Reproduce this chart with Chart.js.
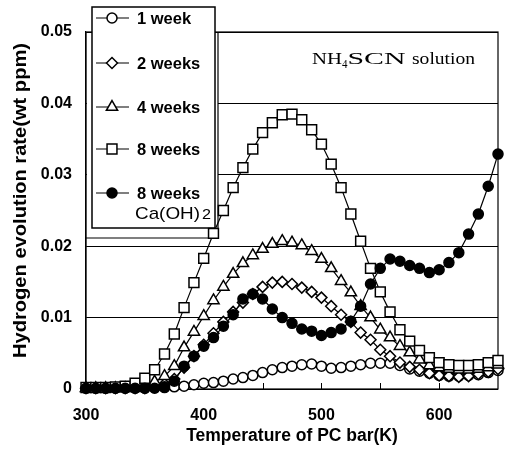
<!DOCTYPE html>
<html>
<head>
<meta charset="utf-8">
<script src="https://cdn.jsdelivr.net/npm/chart.js@4.4.1/dist/chart.umd.min.js"></script>
<style>
  html, body { margin: 0; padding: 0; background: #fff; }
  canvas { display: block; }
</style>
</head>
<body>
<canvas id="hydrogenChart" width="508" height="457"></canvas>
<script>
// Temperature of PC bar (K), same sampling for every series
const temperatures = [300, 308.3, 316.7, 325, 333.3, 341.7, 350, 358.3, 366.7, 375, 383.3, 391.7, 400, 408.3, 416.7,
    425, 433.3, 441.7, 450, 458.3, 466.7, 475, 483.3, 491.7, 500, 508.3, 516.7, 525, 533.3, 541.7, 550,
    558.3, 566.7, 575, 583.3, 591.7, 600, 608.3, 616.7, 625, 633.3, 641.7, 650];

// Hydrogen evolution rate (wt ppm)
const week1 = [0.0001, 0.0001, 0.0001, 0.0001, 0.0001, 0.0001, 0.0001, 0.0002, 0.0002, 0.0003, 0.0004, 0.0006, 0.0008,
    0.0009, 0.0011, 0.0014, 0.0016, 0.0019, 0.0023, 0.0027, 0.003, 0.0032, 0.0034, 0.0035, 0.0032, 0.0029, 0.003,
    0.0032, 0.0034, 0.0036, 0.0036, 0.0036, 0.0033, 0.0028, 0.0025, 0.0022, 0.0019, 0.0018, 0.0018, 0.0019, 0.002,
    0.0023, 0.0026];
const weeks2 = [0.0001, 0.0001, 0.0001, 0.0001, 0.0001, 0.0001, 0.0001, 0.0003, 0.0007, 0.0014, 0.003, 0.0046, 0.0062,
    0.0078, 0.0094, 0.0108, 0.0121, 0.0133, 0.0143, 0.0149, 0.015, 0.0147, 0.0142, 0.0136, 0.0128, 0.0116, 0.0104,
    0.0094, 0.0079, 0.0069, 0.0055, 0.0046, 0.0037, 0.0031, 0.0027, 0.0022, 0.0019, 0.0018, 0.0017, 0.0018, 0.0021,
    0.0024, 0.0028];
const weeks4 = [0.0001, 0.0001, 0.0001, 0.0001, 0.0001, 0.0001, 0.0003, 0.001, 0.0018, 0.0032, 0.0058, 0.008, 0.0102,
    0.0124, 0.0143, 0.0161, 0.0176, 0.0187, 0.0196, 0.0203, 0.0207, 0.0205, 0.0201, 0.0193, 0.0182, 0.0169, 0.0151,
    0.0135, 0.0116, 0.01, 0.0083, 0.0072, 0.006, 0.0051, 0.0041, 0.0033, 0.003, 0.0028, 0.0027, 0.0027, 0.0028,
    0.003, 0.0034];
const weeks8 = [0.0002, 0.0002, 0.0002, 0.0003, 0.0004, 0.0008, 0.0015, 0.0027, 0.0049, 0.0077, 0.0114, 0.0149, 0.0183,
    0.0218, 0.025, 0.0282, 0.031, 0.0336, 0.0359, 0.0373, 0.0384, 0.0385, 0.0377, 0.0363, 0.0343, 0.0315, 0.0282,
    0.0245, 0.0207, 0.0169, 0.0136, 0.0108, 0.0083, 0.0067, 0.0054, 0.0044, 0.0037, 0.0034, 0.0033, 0.0033, 0.0034,
    0.0037, 0.004];
const weeks8CaOH2 = [0.0001, 0.0001, 0.0001, 0.0001, 0.0001, 0.0001, 0.0001, 0.0001, 0.0003, 0.0011, 0.0032, 0.0046,
    0.006, 0.0072, 0.0088, 0.0104, 0.0126, 0.0133, 0.0126, 0.0112, 0.01, 0.0092, 0.0084, 0.0081, 0.0075, 0.0079,
    0.0084, 0.0095, 0.0116, 0.0147, 0.0169, 0.0182, 0.0179, 0.0173, 0.0169, 0.0163, 0.0167, 0.0177, 0.0191, 0.0217,
    0.0245, 0.0284, 0.0329];

const seriesNames = ["1 week", "2 weeks", "4 weeks", "8 weeks", "8 weeks"];
const seriesValues = [week1, weeks2, weeks4, weeks8, weeks8CaOH2];

const xTickValues = [300, 400, 500, 600];
const xMinorTicks = [350, 400, 450, 500, 550, 600];
const yTickValues = [0, 0.01, 0.02, 0.03, 0.04, 0.05];
const yTickLabels = ["0", "0.01", "0.02", "0.03", "0.04", "0.05"];
const yTitle = "Hydrogen evolution rate(wt ppm)";
const xTitle = "Temperature of PC bar(K)";

// marker look for each series (same order as seriesNames)
const markers = [
    { pointStyle: "circle", radius: 5, fill: "#fff", order: 4 },
    { pointStyle: "rectRot", radius: 5.5, fill: "#fff", order: 3 },
    { pointStyle: "triangle", radius: 6.5, fill: "#fff", order: 2 },
    { pointStyle: "rect", radius: 7, fill: "#fff", order: 1 },
    { pointStyle: "circle", radius: 5, fill: "#000", order: 0 }
];

const datasets = seriesValues.map((values, i) => ({
    label: seriesNames[i],
    data: temperatures.map((t, j) => ({ x: t, y: values[j] })),
    borderColor: "#000",
    borderWidth: 1.2,
    backgroundColor: markers[i].fill,
    pointStyle: markers[i].pointStyle,
    pointRadius: markers[i].radius,
    pointHoverRadius: markers[i].radius,
    pointBackgroundColor: markers[i].fill,
    pointBorderColor: "#000",
    pointBorderWidth: 1.5,
    order: markers[i].order,
    tension: 0,
    clip: false
}));

// stretch a piece of text to a given width (the scan has wide letters)
function drawFitted(ctx, text, x, y, width, font) {
    ctx.font = font;
    const w = ctx.measureText(text).width;
    ctx.save();
    ctx.translate(x, y);
    ctx.scale(width / w, 1);
    ctx.fillText(text, 0, 0);
    ctx.restore();
}

const framePlugin = {
    id: "frameAndLegend",
    beforeDatasetsDraw(chart) {
        const { ctx, chartArea: a, scales } = chart;
        ctx.save();
        ctx.strokeStyle = "#000";
        ctx.fillStyle = "#000";

        // plot frame
        ctx.lineWidth = 1.2;
        ctx.strokeRect(a.left, a.top, a.right - a.left, a.bottom - a.top);

        // inward minor ticks on the x axis
        ctx.lineWidth = 1;
        ctx.beginPath();
        xMinorTicks.forEach(v => {
            const px = Math.round(scales.x.getPixelForValue(v)) + 0.5;
            ctx.moveTo(px, a.bottom);
            ctx.lineTo(px, a.bottom - 6);
        });
        ctx.stroke();

        // panel behind the legend
        ctx.fillStyle = "#fff";
        ctx.fillRect(a.left + 1, a.top + 1, 218 - a.left - 1, 238 - a.top - 1);
        ctx.lineWidth = 1.2;
        ctx.beginPath();
        ctx.moveTo(218, a.top);
        ctx.lineTo(218, 238);
        ctx.lineTo(a.left, 238);
        ctx.stroke();

        // legend box
        ctx.fillRect(92, 7, 123, 221);
        ctx.lineWidth = 1.5;
        ctx.strokeRect(92, 7, 123, 221);

        const rows = [18, 63, 107, 149, 193];
        const drawPoint = Chart.helpers && Chart.helpers.drawPoint;
        rows.forEach((y, i) => {
            ctx.lineWidth = 1.2;
            ctx.strokeStyle = "#000";
            ctx.beginPath();
            ctx.moveTo(96, y);
            ctx.lineTo(129, y);
            ctx.stroke();
            if (drawPoint) {
                ctx.fillStyle = markers[i].fill;
                ctx.lineWidth = 1.5;
                drawPoint(ctx, { pointStyle: markers[i].pointStyle, radius: markers[i].radius, rotation: 0, borderWidth: 1.5 }, 112, y);
            }
            ctx.fillStyle = "#000";
            ctx.textBaseline = "middle";
            ctx.textAlign = "left";
            ctx.font = "bold 16.5px 'Liberation Sans', Arial, sans-serif";
            ctx.fillText(seriesNames[i], 137, y + 1);
        });
        // second line of the last legend entry
        ctx.textBaseline = "alphabetic";
        drawFitted(ctx, "Ca(OH)", 135, 219, 65, "17px 'Liberation Sans', Arial, sans-serif");
        drawFitted(ctx, "2", 202, 219, 9, "15px 'Liberation Sans', Arial, sans-serif");

        // solution label
        const serif = "'Liberation Serif', 'DejaVu Serif', serif";
        drawFitted(ctx, "NH", 312, 64, 30, "17px " + serif);
        drawFitted(ctx, "4", 342, 68, 5.5, "12px " + serif);
        drawFitted(ctx, "SCN", 347.5, 64, 58, "17px " + serif);
        drawFitted(ctx, "solution", 412, 64, 63, "17px " + serif);

        // y axis title, rotated
        ctx.save();
        ctx.translate(21, 200.5);
        ctx.rotate(-Math.PI / 2);
        ctx.textAlign = "center";
        ctx.textBaseline = "middle";
        drawFitted(ctx, yTitle, 0, 0, 315, "bold 18px 'Liberation Sans', Arial, sans-serif");
        ctx.restore();

        ctx.restore();
    }
};

const tickFont = { family: "'Liberation Sans', Arial, sans-serif", size: 16, weight: "bold" };

new Chart(document.getElementById("hydrogenChart"), {
    type: "line",
    data: { datasets: datasets },
    options: {
        responsive: false,
        animation: false,
        events: [],
        layout: { autoPadding: false, padding: { top: 32, right: 10, left: 0, bottom: 0 } },
        plugins: { legend: { display: false }, tooltip: { enabled: false } },
        scales: {
            x: {
                type: "linear",
                min: 300,
                max: 650,
                afterBuildTicks: scale => { scale.ticks = xTickValues.map(v => ({ value: v })); },
                afterFit: scale => { scale.height = 68; },
                grid: { display: false },
                border: { display: false },
                ticks: { color: "#000", font: tickFont, padding: 9, maxRotation: 0, autoSkip: false },
                title: {
                    display: true,
                    text: xTitle,
                    color: "#000",
                    font: { family: "'Liberation Sans', Arial, sans-serif", size: 17.5, weight: "bold" },
                    padding: { top: 0, bottom: 10 }
                }
            },
            y: {
                type: "linear",
                min: 0,
                max: 0.05,
                afterBuildTicks: scale => { scale.ticks = yTickValues.map(v => ({ value: v })); },
                afterFit: scale => { scale.width = 86; },
                grid: { color: "#000", lineWidth: 1, drawTicks: false },
                border: { display: true, color: "#000", width: 1.2 },
                ticks: {
                    color: "#000",
                    font: tickFont,
                    padding: 14,
                    callback: value => yTickLabels[yTickValues.indexOf(value)]
                },
                title: { display: false }
            }
        }
    },
    plugins: [framePlugin]
});
</script>
</body>
</html>
